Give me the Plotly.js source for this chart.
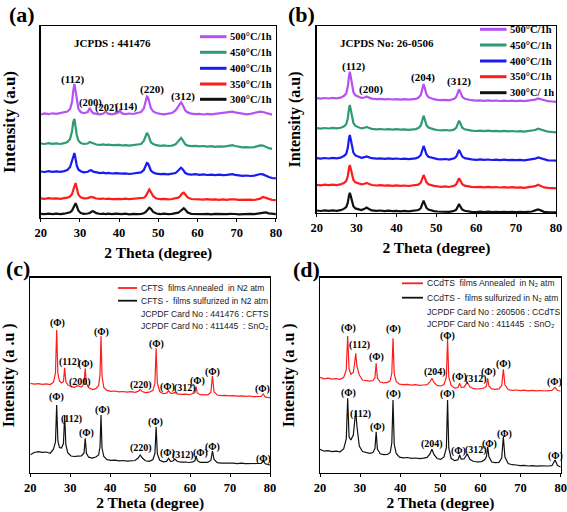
<!DOCTYPE html>
<html><head><meta charset="utf-8">
<script src="https://cdn.plot.ly/plotly-3.0.1.min.js"></script>
<style>html,body{margin:0;padding:0;background:#fff}#chart{width:567px;height:512px}</style>
</head><body><div id="chart"></div>
<script>
// ---------- Panel (a): CFTS, annealing temperature series ----------
const thetaA = [20,21,22,23,24,25,26,26.8,27.5,28.0,
 28.3,28.6,28.9,29.2,29.6,30.2,31,32,32.5,32.9,
 33.4,34.2,35.2,36,36.6,37.2,38.2,39.2,39.8,40.2,
 40.7,41.6,42.6,43.6,44.6,45.6,46.3,46.8,47.1,47.4,
 47.7,48.1,48.7,49.5,50.5,51.5,52.5,53.5,54.4,55.1,
 55.5,55.8,56.1,56.5,56.9,57.5,58.4,59.5,60.5,61.5,
 62.5,63.5,64.5,65.5,66.5,67.5,68.3,68.9,69.6,70.5,
 71.5,72.5,73.5,74.5,75.3,76,76.7,77.4,78.2,79,
 80];
const a500 = [103.5,104.6,103.8,104.7,104.1,104.9,105.3,106.5,109,116,
 127,134,127,117,109.5,106,104.8,106,110,107,
 104.8,104.2,103.7,104.4,106.5,104.3,103.6,104.5,105.5,107.5,
 104.6,103.9,104.5,104.0,104.8,106,109.5,117,121.5,120.5,
 115,110,106.5,105,104.2,103.7,104.3,105,107.5,111.5,
 114.5,115.7,114,110.5,107.5,105.6,104.4,103.8,104.2,103.5,
 104.1,103.6,104.2,104.5,104.9,105.4,106,106.3,105.6,104.8,
 104.1,103.6,104.2,104.9,105.8,106.4,106,105,104.1,103.4,
 null];
const a450 = [74.5,74.0,74.8,74.2,74.6,74.0,74.8,76,79,87,
 96,99,91,83,77.5,75,74,74.5,76,75.5,
 74.2,73.5,73.1,73.6,73.0,73.4,72.8,73.2,72.7,73.1,
 72.5,72.9,72.3,72.8,73.0,74,77,82.5,85,83.5,
 79,75.8,74,72.8,72.2,72.6,72.0,72.4,73.6,76.5,
 79,80,78.5,75.5,73.6,72.4,71.8,72.2,71.6,72.0,
 71.4,71.8,71.2,71.7,71.3,71.8,72.4,72.8,72.0,71.3,
 70.7,70.9,70.5,70.9,71.8,72.6,72.4,71.0,69.8,69.2,
 null];
const a400 = [46.5,46.0,46.8,46.2,46.7,46.1,46.9,48,51,58,
 63,65,59,52.5,48.5,46.8,45.6,46.2,47.5,47.8,
 46.3,45.4,44.9,45.3,44.7,45.1,44.5,44.9,44.4,44.8,
 44.3,44.6,44.0,44.5,44.7,45.6,48,53,55,54.5,
 50.5,47.5,45.4,44.3,43.8,44.2,43.6,44.0,45,47.5,
 49.5,50.3,49.3,46.8,45,43.9,43.4,43.8,43.2,43.6,
 43.0,43.4,42.9,43.3,42.8,43.2,43.6,43.9,43.2,42.6,
 42.2,42.5,42.0,42.4,43.2,44,43.6,42.2,41.0,40.0,
 39.6];
const a350 = [19.6,19.2,19.8,19.3,19.7,19.2,19.8,20.3,21.5,24,
 28,33,35,30,23.5,20.6,19.6,19.9,20.4,21,
 20.6,19.5,19.1,19.5,19.0,19.4,18.9,19.3,18.8,19.2,
 18.9,19.3,18.8,19.2,18.9,19.4,20.2,22,24.5,27,
 28.5,26,21.8,19.5,18.8,19.2,18.6,19.0,19.4,20.3,
 21.5,23,24.6,25.3,23.5,20.6,19.0,18.6,18.9,18.4,
 18.8,18.3,18.7,18.2,18.6,18.2,18.7,19.0,18.6,18.2,
 18.5,18.1,18.4,18.0,18.5,19.4,21,20.2,18.6,18.2,
 17.8];
const a300 = [4.2,3.8,4.3,3.9,4.4,3.8,4.3,4.8,5.8,7.5,
 10,13.5,14.7,12,7.5,5,4.2,4.5,5,6.2,
 6.8,4.8,4.0,4.4,3.8,4.3,3.9,4.4,3.9,4.3,
 3.8,4.3,3.7,4.2,3.8,4.2,4.8,6,7.8,9.5,
 10.3,9.2,6,4.5,3.9,4.3,3.8,4.2,4.5,5.3,
 6.5,7.6,8.8,9.7,8.3,5.5,4.2,3.9,4.3,3.8,
 4.2,3.7,4.1,3.8,4.2,3.8,4.2,4.4,4.0,3.7,
 4.1,3.8,4.2,3.9,4.4,5,5.8,5.6,4.6,4.3,
 3.9];
const legendA = ['500°C/1h','450°C/1h','400°C/1h','350°C/1h','300°C/1h'];
const peaksA = ['(112)','(200)','(202)','(114)','(220)','(312)'];

// ---------- Panel (b): CCdTS, annealing temperature series ----------
const thetaB = [20,21,22,23,24,25,26,26.8,27.4,27.8,
 28.1,28.3,28.5,28.8,29.2,29.7,30.4,31.2,32,32.5,
 33,33.8,35,36,37,38,39,40,41,42,
 43,44,44.8,45.5,46.1,46.5,46.8,47.1,47.5,48,
 48.6,49.4,50.3,51.3,52.3,53.2,53.9,54.5,55,55.4,
 55.7,56,56.5,57.1,57.9,58.8,60,61,62,63,
 64,65,66,67,68,69,70,71,72,73,
 74,74.8,75.5,76.2,77,78,79,80];
const b500 = [114.8,114.3,115.0,114.5,115.1,114.6,115.3,116.9,119.6,126.4,
 137.2,141.3,137.2,127.7,121,117.7,116.1,115.1,115.5,116.5,
 115.6,114.4,113.8,114.2,113.6,114.0,113.5,113.9,113.4,113.8,
 113.3,113.7,114.1,115.2,118,124.3,129,125.1,118.8,115.8,
 114.7,113.8,113.2,112.8,113.2,112.6,113.5,114.2,116.1,120.5,
 123.7,121.1,116.1,114.3,113.4,112.8,112.3,112.7,112.2,112.6,
 112.1,112.5,112.0,112.4,112.0,112.4,111.9,112.3,111.8,112.2,
 112.4,113.4,114.6,113.8,112.3,111.8,111.5,111.2];
const b450 = [84.9,84.4,85.0,84.5,85.1,84.6,85.2,86.4,88.8,94.8,
 104.4,108,104.4,96,90,87.1,85.7,84.6,85.2,86,
 85.2,84.1,83.6,84.0,83.5,83.9,83.4,83.8,83.3,83.7,
 83.2,83.6,83.9,85,87.4,93,97.3,93.7,88.1,85.5,
 84.5,83.6,83.0,82.6,83.0,82.5,82.9,83.6,85.3,89.3,
 92.3,89.8,85.3,83.7,82.9,82.4,82.0,82.4,81.9,82.3,
 81.8,82.2,81.7,82.1,81.6,82.0,81.5,81.9,81.4,81.8,
 82.0,83.0,84.3,83.4,81.9,81.3,81.0,80.7];
const b400 = [54.9,54.4,55.0,54.5,55.1,54.6,55.3,56.9,59.2,65.1,
 74.5,78,74.5,66.3,60.4,57.6,56.1,55.2,55.8,56.6,
 55.9,54.8,54.3,54.7,54.2,54.6,54.1,54.5,54.0,54.4,
 53.9,54.3,54.7,55.7,58,63.2,67,63.8,58.7,56.2,
 55.4,54.5,53.9,53.6,54.0,53.4,54.1,54.7,56.4,60.2,
 63,60.6,56.4,54.8,54.1,53.6,53.2,53.6,53.1,53.5,
 53.0,53.4,52.9,53.3,52.8,53.2,52.8,53.2,52.7,53.1,
 53.3,54.3,55.6,54.7,53.2,52.7,52.5,52.3];
const b350 = [28.2,27.7,28.3,27.8,28.4,27.9,28.6,30,32,37,
 45,48,45,38,33,30.6,29.4,28.6,29.2,30,
 29.2,28.0,27.5,27.9,27.3,27.7,27.2,27.6,27.1,27.5,
 27.0,27.4,27.5,28.3,30.3,34.7,38,35.3,30.9,28.8,
 28,27.1,26.6,26.2,26.6,26.0,26.7,27.3,28.8,32.2,
 34.7,32.6,28.8,27.4,26.6,26.1,25.8,26.2,25.7,26.1,
 25.6,26.0,25.5,25.9,25.4,25.8,25.3,25.7,25.2,25.6,
 25.8,26.8,28.2,27.2,25.6,25.1,24.9,24.7];
const b300 = [2.5,2.0,2.6,2.1,2.7,2.2,2.8,4.1,5.9,10.4,
 17.6,20.3,17.6,11.3,6.8,4.6,3.6,3.0,4.2,5.5,
 4.3,2.6,2.1,2.5,1.9,2.3,1.8,2.2,1.7,2.1,
 1.6,2.0,2.3,3.0,5,8.7,12.3,9.3,5.3,3.4,
 2.6,1.9,1.5,1.2,1.6,1.1,1.7,2.2,3.4,6.2,
 9,6.6,3.4,2.2,1.6,1.2,1.0,1.4,0.9,1.3,
 0.8,1.2,0.8,1.2,0.8,1.2,0.8,1.2,0.8,1.2,
 1.5,2.6,3.5,2.6,1.2,0.9,0.8,0.6];
const legendB = ['500°C/1h','450°C/1h','400°C/1h','350°C/1h','300°C/ 1h'];
const peaksB = ['(112)','(200)','(204)','(312)'];

// ---------- Panel (c): CFTS annealed vs sulfurized ----------
const thetaC = [20,21,22,23,24,25,25.8,26.3,26.6,26.9,
 27.3,27.8,28.3,28.6,28.9,29.4,30.2,31,31.9,32.8,
 33.45,33.75,34.05,34.6,35.5,36.4,37.1,37.45,37.7,37.95,
 38.4,39.2,40.2,41.2,42.2,43.2,44.2,45.2,46.2,47.0,
 47.5,48.0,48.8,49.8,50.7,51.2,51.5,51.8,52.4,53.3,
 54.1,54.6,55.1,55.7,56.2,56.8,57.8,58.8,59.8,60.7,
 61.2,61.5,61.8,62.5,63.4,64.4,65.2,65.6,66.0,66.8,
 67.8,68.8,69.8,70.8,71.8,72.8,73.8,74.8,75.8,76.8,
 77.8,78.3,78.8,79.4,80];
const cAnnealed = [89.7,88.9,89.4,88.6,89.1,88.5,90.8,100,143,100,
 92,90,91.3,105.3,91.3,88.1,86.3,85.7,87.3,86,
 89.4,104.7,89.4,85.5,83.5,84.3,87.3,98,137,97,
 85.5,82.6,81.6,82.0,81.2,81.5,80.9,81.3,80.7,81.6,
 83.7,81.4,80.4,80.8,82.7,90,124.7,90,81.5,79.3,
 79.8,82.2,79.8,79.6,80.6,79.2,78.6,78.9,78.3,79.2,
 80.1,86.3,80,78.3,78.0,78.2,80.6,97,81,78,
 77.4,77.7,77.1,77.4,76.9,77.2,76.7,77.0,76.4,76.6,
 76.5,79,76.1,75.6,75.3];
const cSulfurized = [18.2,20.5,21.3,20.6,21.0,19.8,23.8,31,68,32,
 25.5,25,29.5,58,28,20,17,16.5,16.8,17,
 20,34.7,19.7,15.8,14.9,16,18,26,58,25,
 16.5,13.3,12.6,12.9,12.2,12.5,11.9,12.3,12.5,15,
 18,15.2,12.2,11.6,13.5,19.5,46.3,19,12.8,11.2,
 11.6,14.7,11.6,12.0,14,11.5,10.8,11.0,10.5,11.1,
 12.2,17,12.5,10.6,10.3,10.6,12.5,22,13.5,10.4,
 9.8,10.0,9.5,9.9,9.4,9.8,9.3,9.6,9.2,9.5,
 9.6,12,9.2,8.5,8.0];
const legendC = ['CFTS  films Annealed  in N2 atm','CFTS -  films sulfurized in N2 atm','JCPDF Card No : 441476 : CFTS','JCPDF Card No : 411445  : SnO₂'];
// peak label text, 2θ of label, label height (intensity units)
const labCred = [['(Φ)',26.75,150],['(112)',29.8,111.5],['(Φ)',33.75,109],['(200)',32.5,91.5],['(Φ)',37.9,141],['(220)',47.75,88],['(Φ)',51.55,129.5],['(Φ)',54.4,86.5],['(312)',58.6,85],['(Φ)',61.8,92],['(Φ)',65.6,101.5],['(Φ)',78,84]];
const labCblk = [['(Φ)',26.6,75.7],['(112)',30.2,53.7],['(Φ)',34.1,40.3],['(Φ)',38.1,63],['(220)',47.6,24.7],['(Φ)',51.3,51.3],['(Φ)',54.3,19.7],['(312)',58.3,18],['(Φ)',62.5,19.7],['(Φ)',65.5,26.3],['(Φ)',78.25,14]];

// ---------- Panel (d): CCdTS annealed vs sulfurized ----------
const thetaD = [20,21,22,23,24,25,25.9,26.55,26.9,27.25,
 27.7,28.3,28.6,28.9,29.2,29.8,30.6,31.5,32.4,33.2,
 33.7,34.0,34.3,35,35.9,36.8,37.5,37.9,38.2,38.5,
 39,39.8,40.8,41.8,42.8,43.8,44.8,45.8,46.7,47.4,
 47.9,48.4,49.2,50.1,50.9,51.5,51.8,52.1,52.7,53.6,
 54.4,54.8,55.2,55.9,56.7,57.4,58.3,59.3,60.3,61.1,
 61.5,61.8,62.1,62.8,63.7,64.6,65.3,65.7,66.1,66.9,
 67.9,68.9,69.9,70.9,71.9,72.9,73.9,74.9,75.9,76.9,
 77.8,78.6,79.2,80];
const dAnnealed = [95.7,94.2,94.8,93.9,94.3,93.6,95.5,103,137,104,
 98.7,100.5,108.5,119.7,107,98,93,92.5,91.8,92.5,
 95.5,109.7,95,91,90.2,90.7,92.2,100,134.7,99,
 91.5,88.8,88.3,88.6,87.9,88.3,87.6,88.0,88.4,91,
 94.7,90.5,87.6,87.0,88.5,96,134,96,87.5,84.8,
 85.5,89.7,85.6,85.8,90.7,86,84.3,84.0,84.3,85.5,
 87,94.7,87,84.1,83.6,84.1,87.5,103.7,88,83.5,
 82.7,83.0,82.4,82.8,82.2,82.6,82.1,82.5,82.0,82.4,
 82.6,85.7,82.5,82];
const dSulfurized = [23.7,21.8,22.3,21.4,21.9,21.2,24,34,74.7,36,
 33,38,50,62.3,47,27,21.5,20.3,19.6,20.4,
 24.5,41.3,24,19.2,18.3,18.5,20.5,30,73,29,
 19.5,15.8,15.2,15.5,14.7,15.0,14.4,14.8,15.6,19,
 23.7,18.5,14.5,13.6,16,25,73,25,14.5,12.3,
 13.2,18,13.8,14,19,13.5,11.5,11.2,11.4,13.5,
 16.5,26.3,16.5,11,10.3,10.6,15,36.3,16,9.5,
 8.3,8.0,7.4,7.6,7.0,7.3,6.8,7.1,6.7,7.0,
 7.3,13,7.5,6];
const legendD = ['CCdTS  films Annealed  in N₂ atm','CCdTS -  films sulfurized in N₂ atm','JCPDF Card No : 260506 : CCdTS','JCPDF Card No : 411445  : SnO₂'];
const labDred = [['(Φ)',27.1,144.7],['(112)',29.75,128],['(Φ)',34.2,115.7],['(Φ)',38.2,143.7],['(204)',48.7,100.7],['(Φ)',51.8,137.5],['(Φ)',54.8,95.7],['(312)',59,93.7],['(Φ)',62,100.7],['(Φ)',65.8,109],['(Φ)',78.4,91.3]];
const labDblk = [['(Φ)',27.1,80],['(112)',30,58.7],['(Φ)',34.3,46.3],['(Φ)',38.2,79],['(204)',48,29],['(Φ)',51.8,79],['(Φ)',54.6,22],['(312)',58.9,23],['(Φ)',62.3,29],['(Φ)',65.9,39],['(Φ)',78.75,17]];

// ---------- drawing ----------
const W = 567, H = 512;
const PX = x => x / W, PY = y => 1 - y / H;
const serif = 'Liberation Serif, Times New Roman, serif';
const sans = 'Liberation Sans, Arial, sans-serif';
const colT = ['#B453F2', '#2F9B70', '#1A1AF2', '#FF1C1C', '#111111'];
const colRed = '#FF1C1C', colBlk = '#111111';

const fr = {
  a: {l: 40.7, r: 275.9, t: 26, b: 218, top: 192},
  b: {l: 316.7, r: 556, t: 26, b: 213, top: 187},
  c: {l: 30.3, r: 270, t: 277.7, b: 473, top: 195.3},
  d: {l: 320, r: 560.7, t: 277.7, b: 473, top: 195.3}
};

const traces = [];
function addLines(theta, series, xa, ya, colors, w) {
  series.forEach((s, i) => traces.push({type: 'scatter', mode: 'lines', x: theta, y: s, xaxis: xa, yaxis: ya,
    line: {color: colors[i], width: w}, hoverinfo: 'skip', showlegend: false, connectgaps: false}));
}
addLines(thetaA, [a300, a350, a400, a450, a500], 'x', 'y', [colT[4], colT[3], colT[2], colT[1], colT[0]], 2.2);
addLines(thetaB, [b300, b350, b400, b450, b500], 'x2', 'y2', [colT[4], colT[3], colT[2], colT[1], colT[0]], 2.2);
addLines(thetaC, [cSulfurized, cAnnealed], 'x3', 'y3', [colBlk, colRed], 1.2);
addLines(thetaD, [dSulfurized, dAnnealed], 'x4', 'y4', [colBlk, colRed], 1.2);

function xax(f, anchor) {
  return {domain: [f.l / W, f.r / W], anchor: anchor, range: [20, 80], tick0: 20, dtick: 10,
    ticks: 'outside', ticklen: 3, tickwidth: 1, tickcolor: '#000', showline: true, mirror: true,
    linecolor: '#000', linewidth: 1.3, showgrid: false, zeroline: false, fixedrange: true,
    tickfont: {family: serif, size: 12.5, color: '#000', weight: 'bold'},
    title: {text: '2 Theta (degree)', font: {family: serif, size: 15.5, color: '#000', weight: 'bold'}, standoff: 8}};
}
function yax(f, anchor, title, size, standoff) {
  return {domain: [1 - f.b / H, 1 - f.t / H], anchor: anchor, range: [0, f.top],
    showticklabels: false, ticks: '', showline: true, mirror: true, linecolor: '#000', linewidth: 1.3,
    showgrid: false, zeroline: false, fixedrange: true,
    title: {text: title, font: {family: serif, size: size, color: '#000', weight: 'bold'}, standoff: standoff}};
}

const ann = [];
const shapes = [];
function txt(text, x, y, size, opts) {
  ann.push(Object.assign({text: text, x: x, y: y, xref: 'paper', yref: 'paper', showarrow: false,
    xanchor: 'center', yanchor: 'middle', font: {family: serif, size: size, color: '#000', weight: 'bold'}}, opts || {}));
}
// panel letters
txt('(a)', PX(22), PY(14), 22);
txt('(b)', PX(301), PY(14), 22);
txt('(c)', PX(17.5), PY(268), 22);
txt('(d)', PX(306), PY(269), 22);

// temperature legends (a), (b)
function tempLegend(labels, x0, x1, rows) {
  labels.forEach((lab, i) => {
    shapes.push({type: 'line', xref: 'paper', yref: 'paper', x0: PX(x0), x1: PX(x1), y0: PY(rows[i]), y1: PY(rows[i]),
      line: {color: colT[i], width: 3}});
    txt(lab, PX(x1 + 1), PY(rows[i]), 10.5, {xanchor: 'left'});
  });
}
tempLegend(legendA, 200, 226.5, [36.7, 52.3, 68.3, 84, 99.3]);
tempLegend(legendB, 480, 506.5, [29.3, 45, 61, 76.7, 92.7]);
txt('JCPDS : 441476', PX(112.5), PY(43), 11);
txt('JCPDS No: 26-0506', PX(386.7), PY(43.3), 11);

// peak labels (a), (b) in data coordinates
const posA = [[28.2, 139], [32.6, 115], [36.7, 110], [41.9, 111], [48.4, 129], [56.3, 122]];
peaksA.forEach((p, i) => ann.push({text: p, x: posA[i][0], y: posA[i][1], xref: 'x', yref: 'y', showarrow: false,
  font: {family: serif, size: i >= 1 && i <= 3 ? 10.5 : 11, color: '#000', weight: 'bold'}}));
const posB = [[29.4, 147], [33.5, 123.7], [46.7, 135.7], [55.7, 132]];
peaksB.forEach((p, i) => ann.push({text: p, x: posB[i][0], y: posB[i][1], xref: 'x2', yref: 'y2', showarrow: false,
  font: {family: serif, size: 11, color: '#000', weight: 'bold'}}));

// film legends (c), (d)
function filmLegend(labels, x0, x1, rows) {
  labels.forEach((lab, i) => {
    if (i < 2) shapes.push({type: 'line', xref: 'paper', yref: 'paper', x0: PX(x0), x1: PX(x1), y0: PY(rows[i]), y1: PY(rows[i]),
      line: {color: i === 0 ? colRed : colBlk, width: 1.8}});
    ann.push({text: lab, x: PX(x1 + 2), y: PY(rows[i]), xref: 'paper', yref: 'paper', showarrow: false,
      xanchor: 'left', yanchor: 'middle', font: {family: sans, size: i < 2 ? 8.5 : 8.6, color: '#1a1a1a'}});
  });
}
filmLegend(legendC, 118, 137, [288, 300.7, 314, 326]);
filmLegend(legendD, 402, 423, [283.3, 297.7, 312.3, 324]);

function peakLabels(list, xa, ya) {
  list.forEach(l => ann.push({text: l[0], x: l[1], y: l[2], xref: xa, yref: ya, showarrow: false,
    font: {family: serif, size: 10, color: '#000', weight: 'bold'}}));
}
peakLabels(labCred, 'x3', 'y3');
peakLabels(labCblk, 'x3', 'y3');
peakLabels(labDred, 'x4', 'y4');
peakLabels(labDblk, 'x4', 'y4');

const layout = {
  width: W, height: H, margin: {l: 0, r: 0, t: 0, b: 0}, paper_bgcolor: '#fff', plot_bgcolor: '#fff',
  showlegend: false,
  xaxis: xax(fr.a, 'y'), yaxis: yax(fr.a, 'x', 'Intensity (a.u)', 17, 19),
  xaxis2: xax(fr.b, 'y2'), yaxis2: yax(fr.b, 'x2', 'Intensity (a.u)', 16, 10.5),
  xaxis3: xax(fr.c, 'y3'), yaxis3: yax(fr.c, 'x3', 'Intensity (a .u )', 16, 10.5),
  xaxis4: xax(fr.d, 'y4'), yaxis4: yax(fr.d, 'x4', 'Intensity (a .u )', 16, 19.5),
  annotations: ann, shapes: shapes
};
Plotly.newPlot('chart', traces, layout, {displayModeBar: false, staticPlot: true});
</script></body></html>
